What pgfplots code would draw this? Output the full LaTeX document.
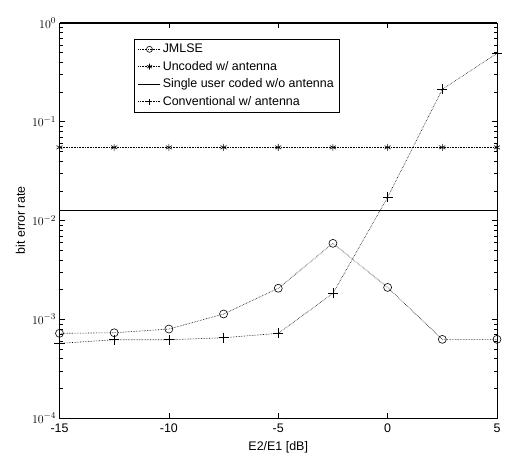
\documentclass[border=0pt]{standalone}
\usepackage{pgfplots}
\pgfplotsset{compat=1.18}
\usepackage{fontspec}
\setmainfont{Liberation Sans}
\begin{document}
\begin{tikzpicture}[font=\fontsize{12.5}{15}\selectfont]
\begin{axis}[
  at={(0,0)}, anchor=south west,
  scale only axis, width=437.5bp, height=395bp,
  xmin=-15, xmax=5, ymin=1e-4, ymax=1,
  ymode=log,
  xtick={-15,-10,-5,0,5},
  xticklabels={-15,-10,-5,0,5},
  ytick={1e-4,1e-3,1e-2,1e-1,1},
  yticklabels={$10^{-4}$,$10^{-3}$,$10^{-2}$,$10^{-1}$,$10^{0}$},
  /pgf/number format/assume math mode=true,
  tick align=inside,
  major tick length=5bp, minor tick length=3bp,
  tick style={black, line width=0.5pt},
  axis line style={line width=0.8pt},
  xlabel={E2/E1 [dB]},
  ylabel={bit error rate},
  xlabel style={at={(axis description cs:0.5,0)}, anchor=north, yshift=-20bp},
  ylabel style={at={(axis description cs:0,0.5)}, anchor=south, yshift=31bp},
  xticklabel style={yshift=-2bp},
  legend style={at={(axis cs:-11.6,0.69)}, anchor=north west, draw=black, line width=0.6pt,
    fill=white, font=\fontsize{12.5}{15}\selectfont, inner xsep=4bp, inner ysep=3bp,
    row sep=3bp, cells={anchor=west}},
  legend image code/.code={\draw[#1] (0bp,0bp) -- (22bp,0bp); \draw[#1, solid, mark size=3bp] plot coordinates {(11bp,0bp)};},
  clip=false,
]
\addplot[black, densely dotted, line width=0.6pt, mark=o, mark size=4bp, mark options={solid}] coordinates {
(-15,7.2e-4) (-12.5,7.3e-4) (-10,7.96e-4) (-7.5,1.13e-3) (-5,2.06e-3) (-2.5,5.87e-3) (0,2.1e-3) (2.5,6.26e-4) (5,6.26e-4)};
\addlegendentry{JMLSE}
\addplot[black, densely dotted, line width=0.6pt, mark=asterisk, mark size=3.5bp, mark options={solid}] coordinates {
(-15,0.055) (-12.5,0.055) (-10,0.055) (-7.5,0.055) (-5,0.055) (-2.5,0.055) (0,0.055) (2.5,0.055) (5,0.055)};
\addlegendentry{Uncoded w/ antenna}
\addplot[black, solid, line width=0.6pt] coordinates {(-15,0.0128) (5,0.0128)};
\addlegendentry{Single user coded w/o antenna\hspace{14bp}}
\addplot[black, densely dotted, line width=0.6pt, mark=+, mark size=5bp, mark options={solid}] coordinates {
(-15,5.7e-4) (-12.5,6.2e-4) (-10,6.2e-4) (-7.5,6.5e-4) (-5,7.2e-4) (-2.5,1.83e-3) (0,0.0172) (2.5,0.213) (5,0.493)};
\addlegendentry{Conventional w/ antenna}
\addplot[black, solid, line width=1.6pt, forget plot] coordinates {(-15,1) (5,1)};
\end{axis}
\useasboundingbox (-59.5bp,-39bp) rectangle (445.5bp,418bp);
\end{tikzpicture}
\end{document}
